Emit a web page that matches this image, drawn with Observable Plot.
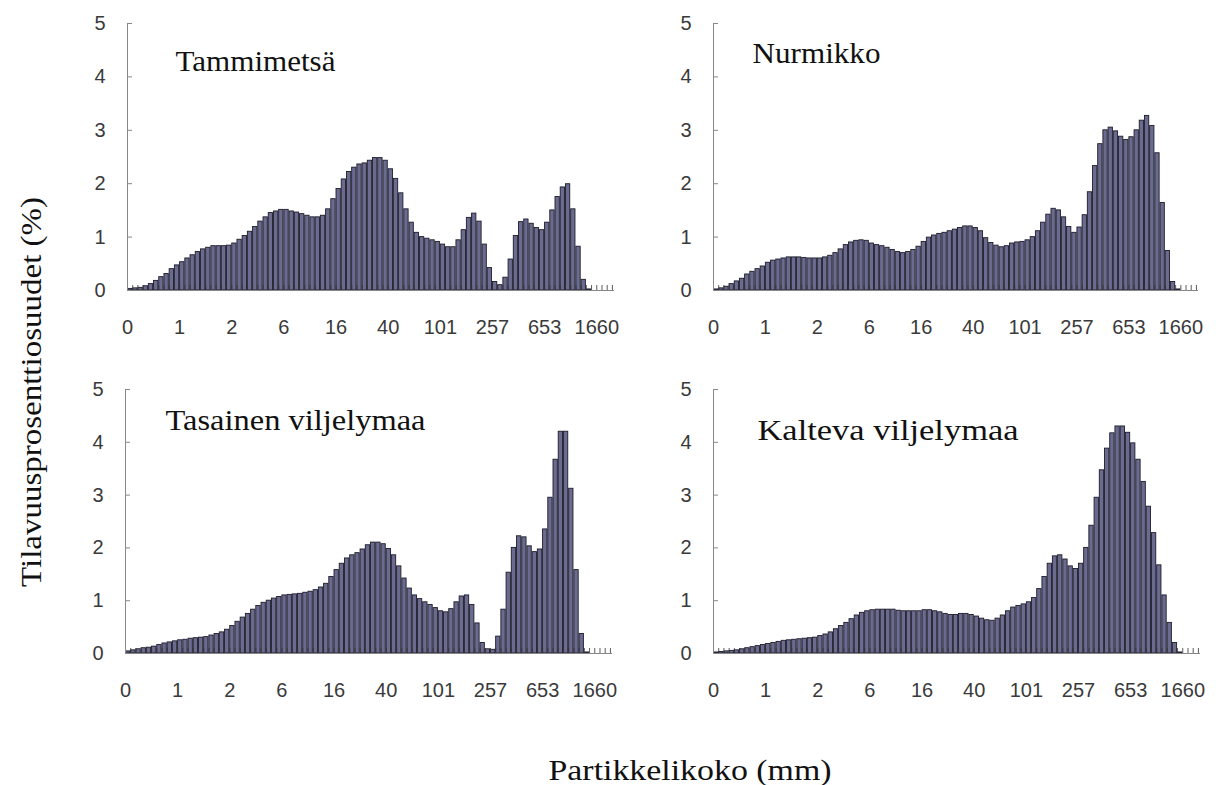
<!DOCTYPE html>
<html>
<head>
<meta charset="utf-8">
<script src="https://cdn.jsdelivr.net/npm/d3@7"></script>
<script src="https://cdn.jsdelivr.net/npm/@observablehq/plot@0.6"></script>
<style>
  body { margin: 0; background: #fff; }
  #chart { position: relative; width: 1220px; height: 785px; background: #fff; overflow: hidden; }
  #chart svg { position: absolute; }
</style>
</head>
<body>
<div id="chart"></div>
<script>
// ---- data ----
const sizeLabels = ["0", "1", "2", "6", "16", "40", "101", "257", "653", "1660"];
const labelBins = [0, 10, 20, 30, 40, 50, 60, 70, 80, 90];
const yTicks = [0, 1, 2, 3, 4, 5];
const panelTitles = ["Tammimetsä", "Nurmikko", "Tasainen viljelymaa", "Kalteva viljelymaa"];
const yAxisTitle = "Tilavuusprosenttiosuudet (%)";
const xAxisTitle = "Partikkelikoko (mm)";

const tammimetsa = [
  0.03, 0.04, 0.05, 0.08, 0.12, 0.18, 0.25, 0.31, 0.40, 0.47,
  0.53, 0.60, 0.66, 0.72, 0.77, 0.80, 0.83, 0.83, 0.83, 0.84,
  0.88, 0.95, 1.02, 1.10, 1.19, 1.29, 1.37, 1.45, 1.48, 1.51,
  1.51, 1.48, 1.46, 1.43, 1.40, 1.37, 1.37, 1.40, 1.52, 1.71,
  1.90, 2.08, 2.22, 2.30, 2.36, 2.38, 2.43, 2.48, 2.48, 2.43,
  2.27, 2.09, 1.82, 1.52, 1.27, 1.08, 1.00, 0.97, 0.94, 0.91,
  0.86, 0.81, 0.81, 0.94, 1.13, 1.36, 1.44, 1.29, 0.86, 0.42,
  0.16, 0.10, 0.24, 0.58, 1.02, 1.28, 1.33, 1.25, 1.17, 1.13,
  1.27, 1.50, 1.75, 1.93, 1.99, 1.52, 0.82, 0.20, 0.02
];
const nurmikko = [
  0.02, 0.04, 0.07, 0.12, 0.17, 0.22, 0.30, 0.35, 0.40, 0.45,
  0.52, 0.56, 0.58, 0.60, 0.62, 0.62, 0.62, 0.61, 0.60, 0.60,
  0.60, 0.62, 0.65, 0.70, 0.77, 0.85, 0.90, 0.93, 0.94, 0.93,
  0.88, 0.85, 0.83, 0.80, 0.76, 0.72, 0.70, 0.72, 0.76, 0.82,
  0.91, 0.99, 1.03, 1.06, 1.08, 1.11, 1.14, 1.17, 1.20, 1.20,
  1.17, 1.11, 0.98, 0.89, 0.84, 0.81, 0.83, 0.88, 0.90, 0.91,
  0.94, 1.00, 1.11, 1.27, 1.42, 1.53, 1.50, 1.37, 1.19, 1.08,
  1.18, 1.41, 1.84, 2.33, 2.74, 3.00, 3.05, 2.98, 2.88, 2.82,
  2.87, 3.00, 3.18, 3.27, 3.08, 2.57, 1.64, 0.74, 0.16, 0.02
];
const tasainen = [
  0.04, 0.06, 0.08, 0.10, 0.11, 0.13, 0.16, 0.19, 0.21, 0.23,
  0.25, 0.26, 0.28, 0.29, 0.30, 0.31, 0.34, 0.37, 0.40, 0.45,
  0.52, 0.60, 0.68, 0.75, 0.83, 0.90, 0.96, 1.00, 1.04, 1.07,
  1.10, 1.11, 1.12, 1.13, 1.15, 1.17, 1.20, 1.25, 1.32, 1.45,
  1.58, 1.70, 1.80, 1.86, 1.90, 1.97, 2.05, 2.10, 2.10, 2.07,
  1.98, 1.86, 1.65, 1.42, 1.23, 1.10, 1.03, 0.97, 0.92, 0.86,
  0.80, 0.78, 0.84, 0.97, 1.08, 1.10, 0.92, 0.57, 0.20, 0.08,
  0.07, 0.32, 0.83, 1.53, 2.00, 2.22, 2.20, 2.03, 1.92, 1.97,
  2.35, 2.95, 3.67, 4.20, 4.20, 3.12, 1.58, 0.37, 0.02
];
const kalteva = [
  0.02, 0.03, 0.04, 0.05, 0.06, 0.08, 0.10, 0.12, 0.14, 0.16,
  0.18, 0.20, 0.22, 0.24, 0.25, 0.26, 0.27, 0.28, 0.29, 0.30,
  0.33, 0.36, 0.40, 0.46, 0.52, 0.58, 0.65, 0.72, 0.77, 0.80,
  0.82, 0.83, 0.83, 0.83, 0.83, 0.81, 0.80, 0.80, 0.80, 0.80,
  0.82, 0.82, 0.80, 0.78, 0.75, 0.73, 0.73, 0.75, 0.75, 0.73,
  0.70, 0.66, 0.63, 0.62, 0.66, 0.72, 0.80, 0.87, 0.90, 0.93,
  0.97, 1.05, 1.22, 1.45, 1.70, 1.84, 1.86, 1.78, 1.65, 1.60,
  1.70, 2.00, 2.42, 2.95, 3.47, 3.88, 4.17, 4.30, 4.30, 4.18,
  3.98, 3.67, 3.25, 2.78, 2.28, 1.67, 1.10, 0.58, 0.20, 0.02
];

// ---- layout (pixels) ----
const layouts = [
  {series: tammimetsa, title: panelTitles[0], left: 40,  top: 0,   w: 590, h: 350, ml: 87, mr: 16, mt: 23, mb: 60, tdx: 48, tdy: 47, tw: 160},
  {series: nurmikko,   title: panelTitles[1], left: 630, top: 0,   w: 590, h: 350, ml: 83, mr: 22, mt: 23, mb: 60, tdx: 39, tdy: 39, tw: 128},
  {series: tasainen,   title: panelTitles[2], left: 40,  top: 360, w: 590, h: 350, ml: 85, mr: 18, mt: 29, mb: 57, tdx: 40, tdy: 40, tw: 260},
  {series: kalteva,    title: panelTitles[3], left: 630, top: 360, w: 590, h: 350, ml: 83, mr: 20, mt: 29, mb: 57, tdx: 44, tdy: 50, tw: 261}
];

const chart = document.getElementById("chart");
const labelOf = new Map(labelBins.map((b, i) => [b, sizeLabels[i]]));
const binTicks = d3.range(0, 94);
const serif = "'Liberation Serif', 'Times New Roman', serif";

for (const L of layouts) {
  const data = L.series.map((v, k) => ({k, v}));
  const svg = Plot.plot({
    width: L.w, height: L.h,
    marginLeft: L.ml, marginRight: L.mr, marginTop: L.mt, marginBottom: L.mb,
    x: {type: "linear", domain: [0, 93.4]},
    y: {type: "linear", domain: [0, 5]},
    style: {fontFamily: "'Liberation Sans', Arial, sans-serif", fontSize: "20px", color: "#3a3a3a", background: "#fff"},
    marks: [
      Plot.rect(data, {x1: "k", x2: d => d.k + 1, y1: 0, y2: "v",
        fill: "#6b6b90", stroke: "#1c1c2a", strokeWidth: 0.9, insetLeft: 0.45, insetRight: 0.45}),
      Plot.axisX(binTicks, {tickSize: -5, tickFormat: () => "", stroke: "#333", strokeOpacity: 0.8, label: null}),
      Plot.axisX(labelBins, {tickSize: 0, tickPadding: 29, tickFormat: d => labelOf.get(d), label: null}),
      Plot.axisY(yTicks, {tickSize: -5, tickFormat: () => "", stroke: "#888", label: null}),
      Plot.axisY(yTicks, {tickSize: 0, tickPadding: 22, tickFormat: d => String(d), label: null}),
      Plot.ruleY([0], {stroke: "#888"}),
      Plot.ruleX([0], {stroke: "#888"}),
      Plot.text([L.title], {text: d => d, frameAnchor: "top-left", dx: L.tdx, dy: L.tdy,
        textAnchor: "start", lineAnchor: "bottom", fontFamily: serif, fontSize: 29, fill: "#111"})
    ]
  });
  svg.style.left = L.left + "px";
  svg.style.top = L.top + "px";
  d3.select(svg).selectAll("text").filter(function () { return this.textContent === L.title; })
    .attr("textLength", L.tw).attr("lengthAdjust", "spacingAndGlyphs");
  chart.appendChild(svg);
}

// axis titles
const overlay = d3.create("svg").attr("width", 1220).attr("height", 785)
  .style("left", "0px").style("top", "0px").style("pointer-events", "none");
overlay.append("text")
  .attr("transform", "translate(30,392) rotate(-90)")
  .attr("text-anchor", "middle").attr("dy", "0.35em")
  .attr("font-family", serif).attr("font-size", 30).attr("fill", "#111")
  .attr("textLength", 390).attr("lengthAdjust", "spacingAndGlyphs")
  .text(yAxisTitle);
overlay.append("text")
  .attr("x", 690).attr("y", 780)
  .attr("text-anchor", "middle")
  .attr("font-family", serif).attr("font-size", 30).attr("fill", "#111")
  .attr("textLength", 283).attr("lengthAdjust", "spacingAndGlyphs")
  .text(xAxisTitle);
chart.appendChild(overlay.node());
</script>
</body>
</html>
